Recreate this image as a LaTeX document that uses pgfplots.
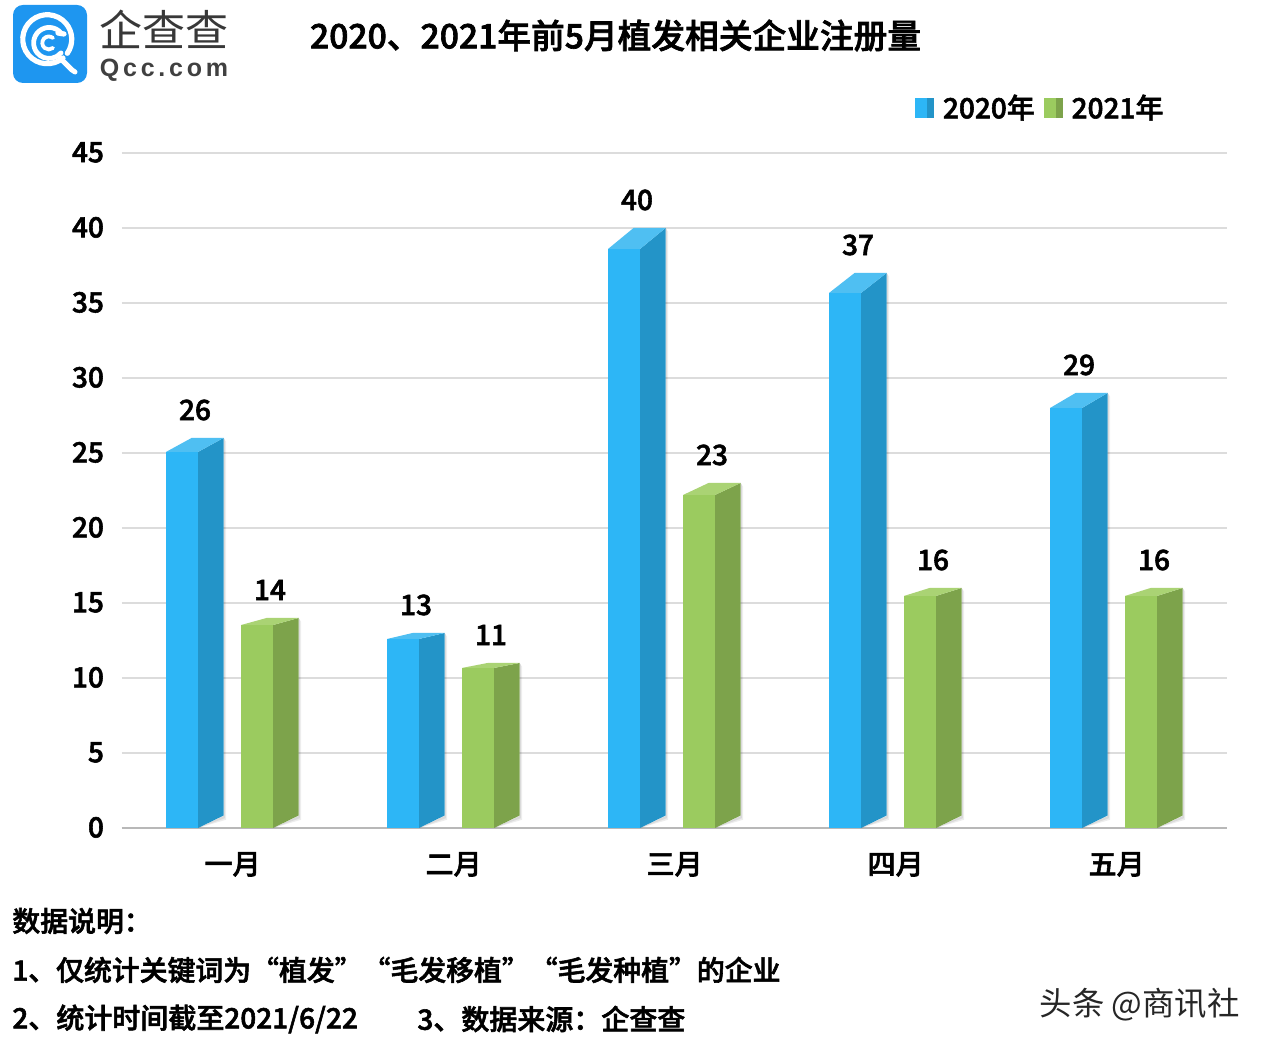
\documentclass[border=0pt]{standalone}
\usepackage{fontspec}
\usepackage{pgfplots}
\usepackage{pgfplotstable}
\pgfplotsset{compat=1.18}
\setmainfont{Noto Sans CJK SC}
\newfontfamily\med{Noto Sans CJK SC Medium}[FakeBold=2]

% 1 px of the reference = 0.5pt
\newcommand\fs[1]{\fontsize{#1}{#1}\selectfont}

\definecolor{blueF}{HTML}{2DB6F6}
\definecolor{blueS}{HTML}{2394C8}
\definecolor{blueT}{HTML}{4FBFF2}
\definecolor{greenF}{HTML}{9BCB5F}
\definecolor{greenS}{HTML}{7DA34B}
\definecolor{greenT}{HTML}{AAD374}
\definecolor{gridc}{HTML}{DCDCDC}
\definecolor{logoc}{HTML}{1E96F0}

% month position, value, front top
\pgfplotstableread{
pos a2020 a2021 xa xb
0 26 14 -0.1674 0.1719
1 13 11 0.8326 1.1719
2 40 23 1.8326 2.1719
3 37 16 2.8326 3.1719
4 29 16 3.8326 4.1719
}\counts

% #1 left edge of the front, #2 value (back top), #3 front top, #4 colour prefix
\newcommand\threedbar[4]{%
  \pgfmathsetmacro\xa{#1}%
  \pgfmathsetmacro\xb{#1+0.1448}%
  \pgfmathsetmacro\xc{#1+0.1448+0.1154}%
  \pgfmathsetmacro\xd{#1+0.1154}%
  \pgfmathsetmacro\sb{#1+0.1448+0.1154+0.012}%
  \pgfmathsetmacro\sc{#1+0.1448+0.1154+0.006}%
  \edef\tmp{%
    \noexpand\addplot[forget plot,draw=none,fill=black,fill opacity=0.07] coordinates {(\xb,0) (\sb,0.55) (\sb,#2-0.25) (\xc,#2) (\xc,0.8)} -- cycle;
    \noexpand\addplot[forget plot,draw=none,fill=black,fill opacity=0.08] coordinates {(\xb,0) (\sc,0.65) (\sc,#2-0.12) (\xc,#2) (\xc,0.8)} -- cycle;
    \noexpand\addplot[forget plot,draw=none,fill=#4S] coordinates {(\xb,0) (\xc,0.83) (\xc,#2) (\xb,#3)} -- cycle;
    \noexpand\addplot[forget plot,draw=none,fill=#4T] coordinates {(\xa,#3) (\xb,#3) (\xc,#2) (\xd,#2)} -- cycle;
    \noexpand\addplot[forget plot,draw=none,fill=#4F] coordinates {(\xa,0) (\xb,0) (\xb,#3) (\xa,#3)} -- cycle;
  }\tmp
}

\begin{document}
\begin{tikzpicture}[x=0.5pt,y=0.5pt]
\useasboundingbox[fill=white] (0,0) rectangle (1269,1050);

\begin{axis}[
    at={(61pt,111pt)}, anchor=south west,
    scale only axis, width=552.5pt, height=337.5pt,
    xmin=-0.4977, xmax=4.502, ymin=0, ymax=45,
    xtick={0,1,2,3,4},
    xticklabels={一月,二月,三月,四月,五月},
    ytick={0,5,...,45},
    major tick length=0pt,
    axis x line*=bottom, axis y line*=left,
    x axis line style={-,draw=black!28,line width=0.9pt},
    y axis line style={draw=none},
    ymajorgrids, grid style={gridc,line width=0.8pt},
    /pgf/number format/assume math mode=true,
    tick label style={font=\fs{14}\med},
    yticklabel style={xshift=-5.5pt,yshift=0.3pt},
    xticklabel style={yshift=-8.5pt,xshift=0.3pt},
    legend style={draw=none,fill=none,at={(0.7122,1.0667)},anchor=west,
      legend columns=2,font=\fs{14}\med,
      /tikz/every even column/.append style={column sep=2.6pt}},
    legend cell align=left,
]
\threedbar{-0.2986}{26}{25.07}{blue}
\threedbar{0.0407}{14}{13.53}{green}
\threedbar{0.7014}{13}{12.6}{blue}
\threedbar{1.0407}{11}{10.67}{green}
\threedbar{1.7014}{40}{38.6}{blue}
\threedbar{2.0407}{23}{22.2}{green}
\threedbar{2.7014}{37}{35.67}{blue}
\threedbar{3.0407}{16}{15.47}{green}
\threedbar{3.7014}{29}{28}{blue}
\threedbar{4.0407}{16}{15.47}{green}

\addplot[forget plot,draw=none,point meta=explicit,nodes near coords,
  every node near coord/.append style={font=\fs{14}\med,anchor=center,yshift=14pt,inner sep=0pt}]
  table[x=xa,y=a2020,meta=a2020] {\counts};
\addplot[forget plot,draw=none,point meta=explicit,nodes near coords,
  every node near coord/.append style={font=\fs{14}\med,anchor=center,yshift=14pt,inner sep=0pt}]
  table[x=xb,y=a2021,meta=a2021] {\counts};

\addlegendimage{legend image code/.code={
  \fill[blueF] (0pt,-4.7pt) rectangle (6pt,4.7pt);
  \fill[blueS] (6pt,-4.7pt) rectangle (9pt,4.7pt);
  \path[draw=none] (9pt,0pt) -- (11.6pt,0pt);}}
\addlegendentry{2020年}
\addlegendimage{legend image code/.code={
  \fill[greenF] (0pt,-4.7pt) rectangle (6pt,4.7pt);
  \fill[greenS] (6pt,-4.7pt) rectangle (9pt,4.7pt);
  \path[draw=none] (9pt,0pt) -- (11.6pt,0pt);}}
\addlegendentry{2021年}
\end{axis}

% title
\node[anchor=center,inner sep=0pt,font=\fs{16.85}\med] at (615.5,1014.5) {2020、2021年前5月植发相关企业注册量};

% logo
\fill[logoc,rounded corners=5pt] (13,967) rectangle (87,1045);
\begin{scope}[white,line cap=round]
  \draw[line width=2.6pt] (63,992) arc (-50:-395:24.5 and 24.5);
  \draw[line width=2.6pt] (58,1017) -- (64,1016);
  \draw[line width=2.5pt] (60,992) -- (72,980) -- (75,978);
  \draw[line width=2.4pt] (61,1017) arc (40:320:15.5);
  \draw[line width=1.9pt] (53,1012) arc (50:310:6.5);
\end{scope}
\node[anchor=center,inner sep=0pt,text=black!78,font=\fs{21.5}] at (164,1021) {企查查};
\node[anchor=center,inner sep=0pt,text=black!75] at (164,980) {\fontspec{Liberation Sans}[LetterSpace=15]\fs{12.5}\bfseries Qcc.com};

% notes
\node[anchor=west,inner sep=0pt,font=\fs{13.93}\med] at (12,129) {数据说明：};
\node[anchor=west,inner sep=0pt,font=\fs{13.93}\med] at (12,80) {1、仅统计关键词为“植发”“毛发移植”“毛发种植”的企业};
\node[anchor=west,inner sep=0pt,font=\fs{14}\med] at (12,31) {2、统计时间截至2021/6/22};
\node[anchor=west,inner sep=0pt,font=\fs{14}\med] at (417,31) {3、数据来源：企查查};

% watermark
\node[anchor=east,inner sep=0pt,text=black!85,font=\fs{16.2}] at (1240,45) {头条 @商讯社};
\end{tikzpicture}
\end{document}
